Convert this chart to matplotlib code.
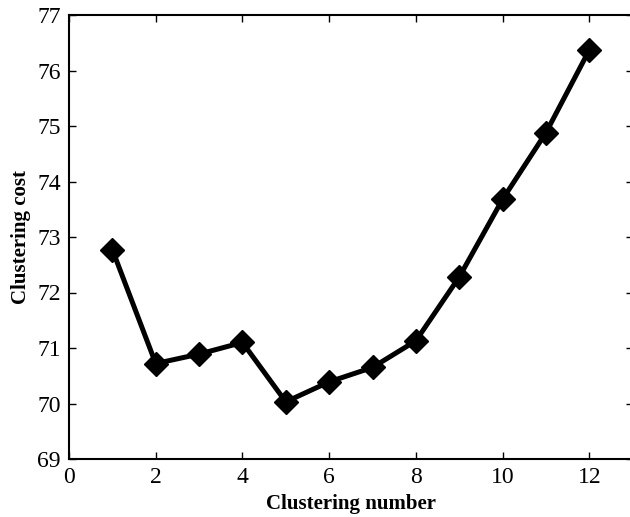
import matplotlib
matplotlib.use("Agg")
import matplotlib.pyplot as plt

plt.rcParams.update({
    'font.family': 'serif',
    'font.serif': ['Liberation Serif', 'DejaVu Serif'],
    'mathtext.fontset': 'stix',
})

clusters = [1, 2, 3, 4, 5, 6, 7, 8, 9, 10, 11, 12]
cost = [72.77, 70.72, 70.89, 71.10, 70.03, 70.39, 70.65, 71.13, 72.28, 73.68, 74.88, 76.37]
xticks = [0, 2, 4, 6, 8, 10, 12]
yticks = [69, 70, 71, 72, 73, 74, 75, 76, 77]

fig = plt.figure(figsize=(6.30, 5.17), dpi=100)
ax = fig.add_axes([69 / 630, 58 / 517, (632.7 - 69) / 630, (459 - 15) / 517])

ax.plot(clusters, cost, '-', color='black', linewidth=3.6,
        marker='D', markersize=12, markerfacecolor='black', markeredgecolor='black')

ax.set_xlim(0, 13)
ax.set_ylim(69, 77)
ax.set_xticks(xticks)
ax.set_yticks(yticks)
ax.tick_params(direction='in', length=5, width=1, top=True, right=True, labelsize=17, pad=6)

for s in ax.spines.values():
    s.set_linewidth(1.5)
# right edge of the box falls just outside the image
ax.spines['right'].set_visible(False)

ax.set_xlabel('Clustering number', fontsize=15, fontweight='bold', labelpad=4)
ax.set_ylabel('Clustering cost', fontsize=15, fontweight='bold', labelpad=4)

fig.savefig('out.png', dpi=100)
